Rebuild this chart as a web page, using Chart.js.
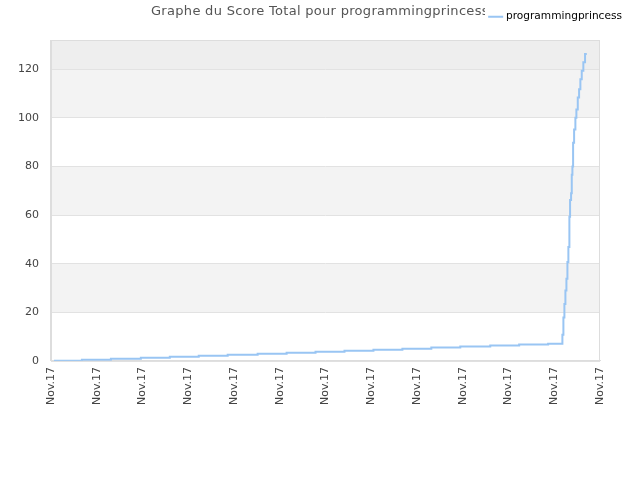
<!DOCTYPE html>
<html>
<head>
<meta charset="utf-8">
<script src="https://cdn.jsdelivr.net/npm/chart.js@4.4.1/dist/chart.umd.min.js"></script>
<style>
html, body { margin: 0; padding: 0; background: #fff; }
#wrap { width: 640px; height: 480px; }
</style>
</head>
<body>
<div id="wrap"><canvas id="scoreChart"></canvas></div>
<script>
// x axis ticks (13 ticks, all the same day)
const tickLabels = ['Nov.17', 'Nov.17', 'Nov.17', 'Nov.17', 'Nov.17', 'Nov.17', 'Nov.17',
                    'Nov.17', 'Nov.17', 'Nov.17', 'Nov.17', 'Nov.17', 'Nov.17'];

// position of each score change, in tick units (0 = first tick, 12 = last)
const stepX = [0.065, 0.676, 1.309, 1.964, 2.597, 3.229, 3.862, 4.517, 5.150, 5.782,
               6.415, 7.048, 7.681, 8.313, 8.946, 9.601, 10.233, 10.866,
               11.178, 11.200, 11.222, 11.244, 11.266, 11.288, 11.309, 11.331, 11.346,
               11.368, 11.383, 11.397, 11.412, 11.434, 11.462, 11.484, 11.514, 11.543,
               11.571, 11.601, 11.636, 11.673, 11.711];

const scores = [0.1, 0.5, 0.9, 1.3, 1.7, 2.1, 2.5, 2.9, 3.4, 3.8,
                4.2, 4.6, 5.0, 5.5, 5.9, 6.3, 6.7, 7.1,
                10.8, 17.9, 23.4, 29.0, 33.8, 40.7, 46.9, 59.3, 66.2,
                69.0, 76.6, 80.0, 89.7, 95.2, 100.0, 103.4, 108.3, 111.7,
                115.9, 119.3, 122.8, 126.2, 126.2];

const playerName = 'programmingprincess';
const chartTitle = 'Graphe du Score Total pour ' + playerName;

const points = stepX.map((x, i) => ({ x: x, y: scores[i] }));

// striped background, plot border and the title (clipped where the legend starts)
const decor = {
    id: 'decor',
    afterLayout(chart) {
        // legend sits on the title line, not right above the plot
        chart.legend.top -= 8;
        chart.legend.bottom -= 8;
    },
    beforeDraw(chart) {
        const ctx = chart.ctx;
        const a = chart.chartArea;
        const y = chart.scales.y;
        ctx.save();
        for (let v = 0; v < y.max; v += 20) {
            const top = y.getPixelForValue(Math.min(v + 20, y.max));
            const bot = y.getPixelForValue(v);
            let col = null;
            if (v >= 120) col = '#eeeeee';
            else if ((v / 20) % 2 === 1) col = '#f3f3f3';
            if (col) {
                ctx.fillStyle = col;
                ctx.fillRect(a.left, top, a.right - a.left, bot - top);
            }
        }
        ctx.restore();
    },
    afterDraw(chart) {
        const ctx = chart.ctx;
        const a = chart.chartArea;
        ctx.save();
        ctx.strokeStyle = '#dddddd';
        ctx.lineWidth = 1;
        ctx.strokeRect(a.left + 0.5, a.top + 0.5, a.right - a.left - 1, a.bottom - a.top);
        ctx.beginPath();
        ctx.rect(0, 0, 485, 30);
        ctx.clip();
        ctx.fillStyle = '#555555';
        ctx.font = '13px "DejaVu Sans"';
        ctx.letterSpacing = '0.3px';
        ctx.textAlign = 'left';
        ctx.textBaseline = 'middle';
        ctx.fillText(chartTitle, 151, 12);
        ctx.restore();
    }
};

new Chart(document.getElementById('scoreChart'), {
    type: 'line',
    data: {
        datasets: [{
            label: playerName,
            data: points,
            stepped: true,
            borderColor: '#99c5f3',
            backgroundColor: '#99c5f3',
            borderWidth: 2,
            pointRadius: 0,
            fill: false
        }]
    },
    options: {
        responsive: true,
        maintainAspectRatio: false,
        animation: false,
        layout: { padding: { top: 0, right: 10, bottom: 69, left: 6 } },
        plugins: {
            title: { display: false },
            tooltip: { enabled: false },
            legend: {
                position: 'top',
                align: 'end',
                labels: {
                    usePointStyle: true,
                    pointStyle: 'line',
                    boxWidth: 10,
                    padding: 8,
                    color: '#000',
                    font: { family: 'DejaVu Sans', size: 10.6 }
                }
            }
        },
        scales: {
            x: {
                type: 'linear',
                min: 0,
                max: 12,
                grid: { display: false, drawTicks: false },
                border: { color: '#dddddd' },
                afterFit: (s) => { s.paddingRight = 40; },
                ticks: {
                    stepSize: 1,
                    minRotation: 90,
                    maxRotation: 90,
                    padding: 6,
                    color: '#444',
                    font: { family: 'DejaVu Sans', size: 11 },
                    callback: (v, i) => tickLabels[i]
                }
            },
            y: {
                min: 0,
                max: 132,
                grid: { color: '#e2e2e2', drawTicks: false },
                border: { color: '#dddddd' },
                afterFit: (s) => { s.paddingTop = 40; },
                ticks: {
                    stepSize: 20,
                    includeBounds: false,
                    padding: 12,
                    color: '#444',
                    font: { family: 'DejaVu Sans', size: 11 }
                }
            }
        }
    },
    plugins: [decor]
});
</script>
</body>
</html>
